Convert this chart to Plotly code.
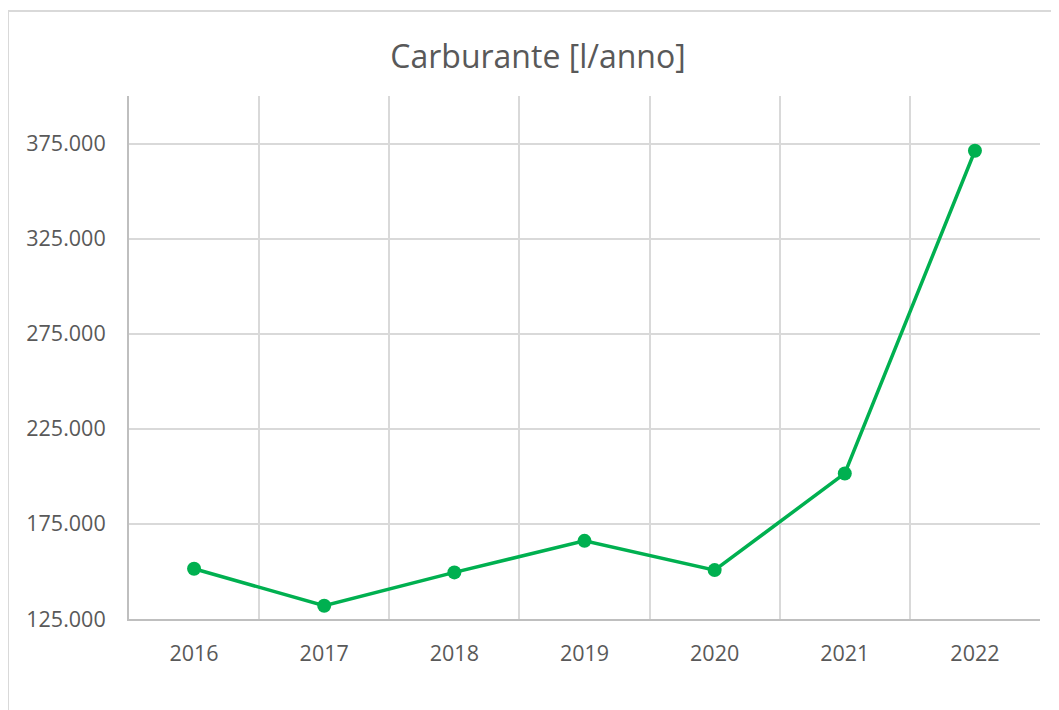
import plotly.graph_objects as go

# Carburante consumato per anno (litri)
years = ["2016", "2017", "2018", "2019", "2020", "2021", "2022"]
litri = [151400, 132000, 149500, 166100, 150700, 201500, 371200]

y_ticks = [125000, 175000, 225000, 275000, 325000, 375000]
y_labels = ["125.000", "175.000", "225.000", "275.000", "325.000", "375.000"]

GREEN = "#00B050"
GRID = "#d9d9d9"
TEXT = "#595959"
FONT = "Open Sans, Segoe UI, sans-serif"

# la pagina ha un margine di 8px: figura un po' più piccola
W, H = 1051, 702

fig = go.Figure()
fig.add_trace(go.Scatter(
    x=years, y=litri, mode="lines+markers",
    line=dict(color=GREEN, width=3.5),
    marker=dict(color=GREEN, size=14),
    showlegend=False,
))

fig.update_layout(
    width=W, height=H,
    margin=dict(l=121, r=19, t=88, b=91),
    paper_bgcolor="white", plot_bgcolor="white",
    font=dict(family=FONT, color=TEXT),
    title=dict(text="Carburante [l/anno]", x=530 / W, xref="container", xanchor="center",
               y=1 - 49 / H, yref="container", yanchor="middle",
               font=dict(size=32, color=TEXT, family=FONT)),
)

fig.update_xaxes(
    type="category", range=[-0.5, 6.5], tickson="boundaries",
    showgrid=True, gridcolor=GRID, gridwidth=2,
    showline=True, linecolor="#bfbfbf", linewidth=2,
    ticks="", tickfont=dict(size=21.5, color=TEXT), ticklabelstandoff=14,
    zeroline=False, mirror=False,
)
fig.update_yaxes(
    range=[125000, 400000], tickvals=y_ticks, ticktext=y_labels,
    showgrid=True, gridcolor=GRID, gridwidth=2,
    showline=True, linecolor="#bfbfbf", linewidth=2,
    ticks="", tickfont=dict(size=21.5, color=TEXT), ticklabelstandoff=17,
    zeroline=False,
)

# bordo del grafico (tagliato a destra e in basso)
fig.add_shape(type="rect", xref="paper", yref="paper",
              x0=(0 - 121) / 911, x1=1.2, y0=-0.4, y1=(611 - 3) / 523,
              line=dict(color=GRID, width=2), layer="below")

fig.write_html("out.html")
